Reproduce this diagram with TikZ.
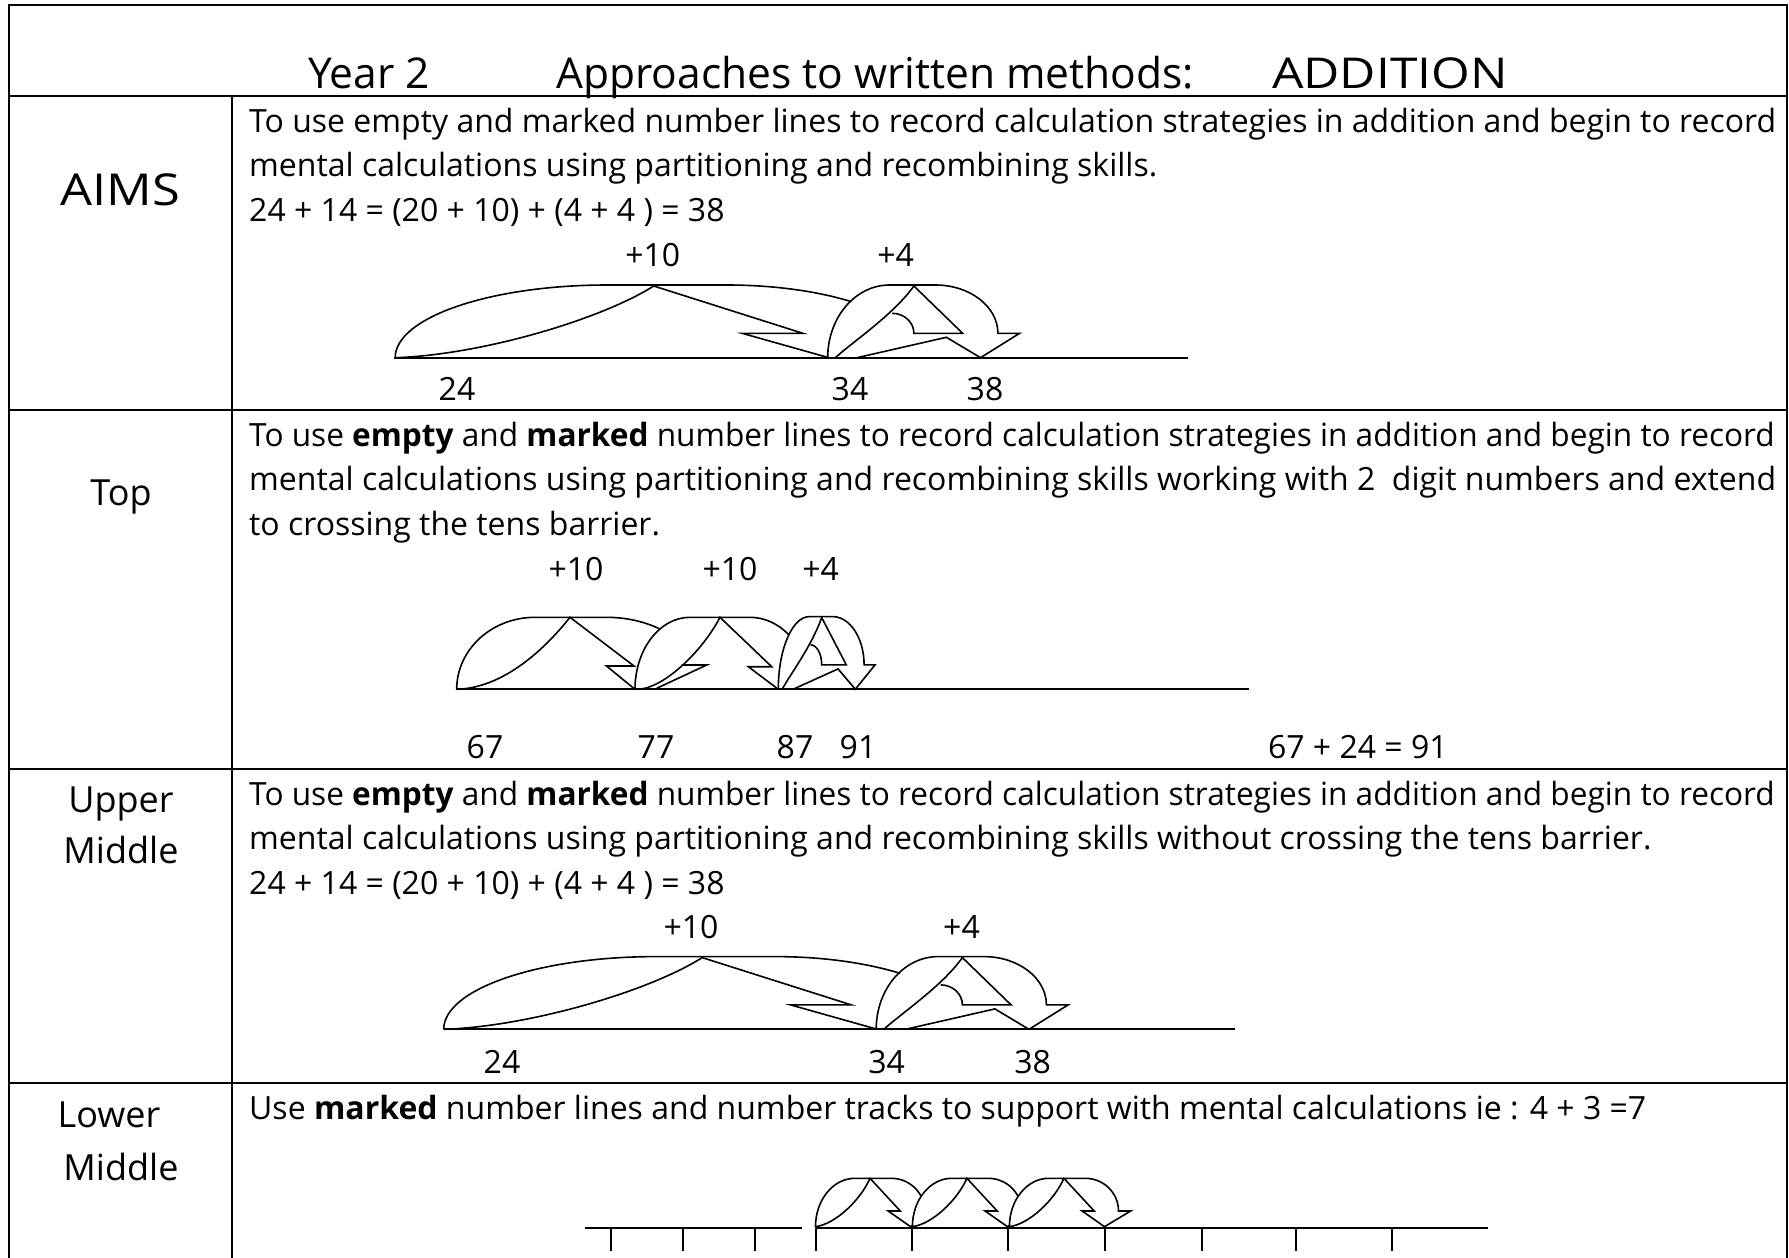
\documentclass[tikz,border=0pt]{standalone}
\usepackage{fontspec}
\usepackage{graphicx}
\setmainfont{Open Sans}
\newcommand{\txtbody}{\fontsize{32}{38}\selectfont}
\newcommand{\txtlab}{\fontsize{36}{42}\selectfont}
\newcommand{\txtaims}{\fontsize{44}{50}\selectfont}
\newcommand{\txttitle}{\fontsize{42.5}{48}\selectfont}
\tikzset{
  grid/.style={line width=2pt},
  nline/.style={line width=2pt},
  arr/.style={line width=1.6pt, line join=miter},
  txt/.style={anchor=base west, inner sep=0pt, font=\txtbody},
  num/.style={anchor=base, inner sep=0pt, font=\txtbody},
  lab/.style={anchor=base, inner sep=0pt, font=\txtlab},
  ttl/.style={anchor=base west, inner sep=0pt, font=\txttitle},
}
% the +10 / +4 pair used in the AIMS and Upper Middle rows
\newcommand{\tenfourarrows}{%
  % +10 arrow
  \draw[arr] (395.2,357.7) .. controls (395.2,317.5) and (490.1,285) .. (607.2,285)
     -- (727,285) .. controls (772.4,285) and (816.5,290.9) .. (851.5,301.7);
  \draw[arr] (395.2,357.7) .. controls (480,355) and (600,320) .. (653.7,286)
     -- (802.8,333.3) -- (742.1,333.3) -- (828.8,357.7);
  % +4 arrow
  \draw[arr] (827.7,357.7) .. controls (827.7,317.5) and (855.4,285) .. (889.5,285)
     -- (935.5,285) .. controls (970,285) and (997.9,306.6) .. (997.9,333.3)
     -- (1019.6,333.3) -- (980.5,357.7) -- (946.4,337.3) -- (857,357.7);
  \draw[arr] (835.3,357.7) .. controls (855,340) and (893,315) .. (913.9,286)
     -- (962.6,333.3) -- (913.9,333.3) .. controls (913.9,322.3) and (904.2,313.3) .. (892.2,313.3);
}
\newcommand{\lmarrow}{%
  \filldraw[arr, fill=white] (0,1226.7) .. controls (0,1200) and (17.6,1178.3) .. (39.4,1178.3)
     -- (75.8,1178.3) .. controls (94.2,1178.3) and (109.1,1192.9) .. (109.1,1211)
     -- (121.2,1211) -- (95.1,1226.7) -- (72.7,1211) -- (84.8,1211) -- (54.5,1178.3)
     .. controls (45,1200) and (20,1224) .. (0,1226.7) -- cycle;
}
\begin{document}
\begin{tikzpicture}[x=1pt,y=-1pt]
\useasboundingbox (0,0) rectangle (1789,1258);
\fill[white] (0,0) rectangle (1789,1258);

% ---------- table ----------
\draw[grid] (9,1270) -- (9,4.7) -- (1786.5,4.7) -- (1786.5,1270);
\draw[grid] (9,96) -- (1786.5,96);
\draw[grid] (9,410) -- (1786.5,410);
\draw[grid] (9,769) -- (1786.5,769);
\draw[grid] (9,1083) -- (1786.5,1083);
\draw[grid] (231.7,96) -- (231.7,1270);

% ---------- title ----------
\node[ttl] (t1) at (308,88) {Year 2};
\node[ttl] (t2) at (556,88) {Approaches to written methods:};
\node[ttl] (t3) at (1272,88) {\scalebox{1.17}[1]{ADDITION}};

% ---------- row labels ----------
\node[anchor=base, inner sep=0pt, font=\txtaims] (aims) at (120.5,205) {\scalebox{1.15}[1]{AIMS}};
\node[lab] (top) at (121,505) {Top};
\node[lab] (um1) at (121,812) {Upper};
\node[lab] (um2) at (121,863) {Middle};
\node[lab] (lm1) at (109,1127) {Lower};
\node[lab] (lm2) at (121,1180) {Middle};

% ---------- AIMS row ----------
\node[txt] (a1) at (249,132) {To use empty and marked number lines to record calculation strategies in addition and begin to record};
\node[txt] (a2) at (249,176.5) {mental calculations using partitioning and recombining skills.};
\node[txt] (a3) at (249,221) {24 + 14 = (20 + 10) + (4 + 4 ) = 38};
\node[num] (ap10) at (652.7,266) {+10};
\node[num] (ap4) at (895.7,266) {+4};
\tenfourarrows
\draw[nline] (394,357.7) -- (1187.6,357.7);
\node[num] (a24) at (457,400) {24};
\node[num] (a34) at (850,400) {34};
\node[num] (a38) at (985,400) {38};

% ---------- Top row ----------
\node[txt] (b1) at (249,446) {\scalebox{0.988}[1]{To use \textbf{empty} and \textbf{marked} number lines to record calculation strategies in addition and begin to record}};
\node[txt] (b2) at (249,490.5) {mental calculations using partitioning and recombining skills working with 2 \ digit numbers and extend};
\node[txt] (b3) at (249,535) {to crossing the tens barrier.};
\node[num] (bp10a) at (576,580) {+10};
\node[num] (bp10b) at (730,580) {+10};
\node[num] (bp4) at (820.7,580) {+4};
% arrow 1
\draw[arr] (456.7,689.3) .. controls (456.7,649.5) and (491.8,617.3) .. (535,617.3)
   -- (606.7,617.3) .. controls (625.6,617.3) and (644.1,621.4) .. (660,629);
\draw[arr] (456.7,689.3) .. controls (500,688) and (540,655) .. (570,617.3)
   -- (634,666) -- (606.5,666) -- (635,689.3);
% arrow 2
\draw[arr] (635,689.3) .. controls (635,649.5) and (659.6,617.3) .. (690,617.3)
   -- (750,617.3) .. controls (764.4,617.3) and (778.2,623.6) .. (789,635);
\draw[arr] (638,689.3) .. controls (665,688) and (703,650) .. (720,617.3)
   -- (771.7,666.7) -- (748.3,666.7) -- (778.3,689.3);
\draw[arr] (681.7,665) -- (706.7,665) -- (656.7,688.3);
% arrow 3
\draw[arr] (778.3,689.3) .. controls (778.3,649.1) and (792.3,616.6) .. (809.4,616.6)
   -- (832.6,616.6) .. controls (850,616.6) and (864.1,638.2) .. (864.1,664.9)
   -- (875,664.9) -- (855.3,689.3) -- (838.1,668.9) -- (793,689.3);
\draw[arr] (782.1,689.3) .. controls (792.1,671.6) and (811.2,646.6) .. (821.7,617.6)
   -- (846.3,664.9) -- (821.7,664.9) .. controls (821.7,653.9) and (816.8,644.9) .. (810.8,644.9);
\draw[nline] (456.4,689.3) -- (1249.4,689.3);
\node[num] (b67) at (485,758) {67};
\node[num] (b77) at (656,758) {77};
\node[num] (b87) at (795,758) {87};
\node[num] (b91) at (858,758) {91};
\node[num] (bsum) at (1357.8,758) {67 + 24 = 91};

% ---------- Upper Middle row ----------
\node[txt] (c1) at (249,805) {\scalebox{0.988}[1]{To use \textbf{empty} and \textbf{marked} number lines to record calculation strategies in addition and begin to record}};
\node[txt] (c2) at (249,849.5) {mental calculations using partitioning and recombining skills without crossing the tens barrier.};
\node[txt] (c3) at (249,894) {24 + 14 = (20 + 10) + (4 + 4 ) = 38};
\node[num] (cp10) at (691,938) {+10};
\node[num] (cp4) at (961.5,938) {+4};
\begin{scope}[shift={(48.5,671.6)}]
  \tenfourarrows
\end{scope}
\draw[nline] (443.5,1029.3) -- (1235,1029.3);
\node[num] (c24) at (502,1073) {24};
\node[num] (c34) at (886.6,1073) {34};
\node[num] (c38) at (1032.6,1073) {38};

% ---------- Lower Middle row ----------
\node[txt] (d1) at (249,1119) {Use \textbf{marked} number lines and number tracks to support with mental calculations ie : 4 + 3 =7};
\begin{scope}[shift={(815.5,0)}]\lmarrow\end{scope}
\begin{scope}[shift={(912.4,0)}]\lmarrow\end{scope}
\begin{scope}[shift={(1009.4,0)}]\lmarrow\end{scope}
\draw[nline] (585.2,1227.5) -- (802.1,1227.5);
\draw[nline] (815.5,1227.5) -- (1488.2,1227.5);
\foreach \tx in {610.6,683.3,754.8,815.5,912.4,1008.2,1104.5,1201.5,1296,1392.4}
  \draw[nline] (\tx,1227.5) -- (\tx,1251);
\end{tikzpicture}
\end{document}
